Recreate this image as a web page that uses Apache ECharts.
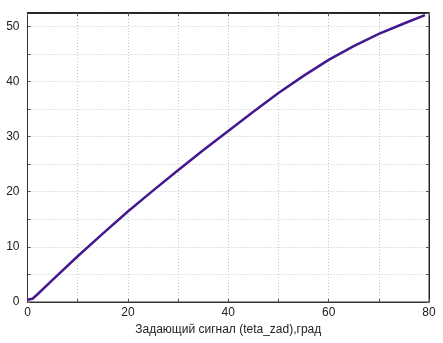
<!DOCTYPE html>
<html><head><meta charset="utf-8">
<script src="https://cdn.jsdelivr.net/npm/echarts@6/dist/echarts.min.js"></script>
<style>html,body{margin:0;padding:0;background:#fff}#c{width:443px;height:343px}</style>
</head><body><div id="c"></div>
<script>
const xValues = [0, 1, 2, 5, 10, 15, 20, 25, 30, 35, 40, 45, 50, 55, 60, 65, 70, 75, 79.2];
const yValues = [0.4, 0.6, 1.4, 4.0, 8.3, 12.4, 16.4, 20.2, 23.9, 27.5, 31.0, 34.5, 37.9, 41.0, 43.9, 46.4, 48.6, 50.5, 52.0];
const xTickLabels = [0, 20, 40, 60, 80];
const yTickLabels = [0, 10, 20, 30, 40, 50];
const xName = 'Задающий сигнал (teta_zad),град';

const chart = echarts.init(document.getElementById('c'));
const font = 'Liberation Sans, Arial, sans-serif';
const gridLine = {show: true, lineStyle: {color: '#c8c8c8', type: [1, 2], width: 1}};
const axLine = {show: true, onZero: false, lineStyle: {color: '#333', width: 1}};
const tick = {show: true, inside: true, length: 3, lineStyle: {color: '#555'}};
chart.setOption({
  animation: false,
  grid: {left: 27.5, right: 14, top: 13, bottom: 41, show: true, borderColor: '#333', borderWidth: 1, backgroundColor: 'transparent'},
  xAxis: [{
    type: 'value', min: 0, max: 80, interval: 10, position: 'bottom',
    axisLine: axLine, axisTick: tick, splitLine: gridLine,
    axisLabel: {color: '#222', fontSize: 12, fontFamily: font, margin: 5,
      formatter: v => xTickLabels.includes(v) ? String(v) : ''},
    name: xName, nameLocation: 'middle', nameGap: 22,
    nameTextStyle: {color: '#222', fontSize: 12, fontFamily: font}
  }, {
    type: 'value', min: 0, max: 80, interval: 10, position: 'top',
    axisLine: {show: true, onZero: false, lineStyle: {color: '#000', width: 1.5}}, axisTick: tick,
    axisLabel: {show: false}, splitLine: {show: false}
  }],
  yAxis: [{
    type: 'value', min: 0, max: 52.4, interval: 5, position: 'left',
    axisLine: axLine, axisTick: tick, splitLine: gridLine,
    axisLabel: {color: '#222', fontSize: 12, fontFamily: font, margin: 8,
      formatter: v => yTickLabels.includes(v) ? String(v) : '', showMaxLabel: false}
  }, {
    type: 'value', min: 0, max: 52.4, interval: 5, position: 'right',
    axisLine: {show: true, onZero: false, lineStyle: {color: '#222', width: 1}},
    axisTick: tick, axisLabel: {show: false}, splitLine: {show: false}
  }],
  series: [{
    type: 'line', xAxisIndex: 0, yAxisIndex: 0, showSymbol: false, smooth: false,
    data: xValues.map((x, i) => [x, yValues[i]]),
    lineStyle: {color: '#44198f', width: 2.5, join: 'round'}
  }]
});
</script></body></html>
